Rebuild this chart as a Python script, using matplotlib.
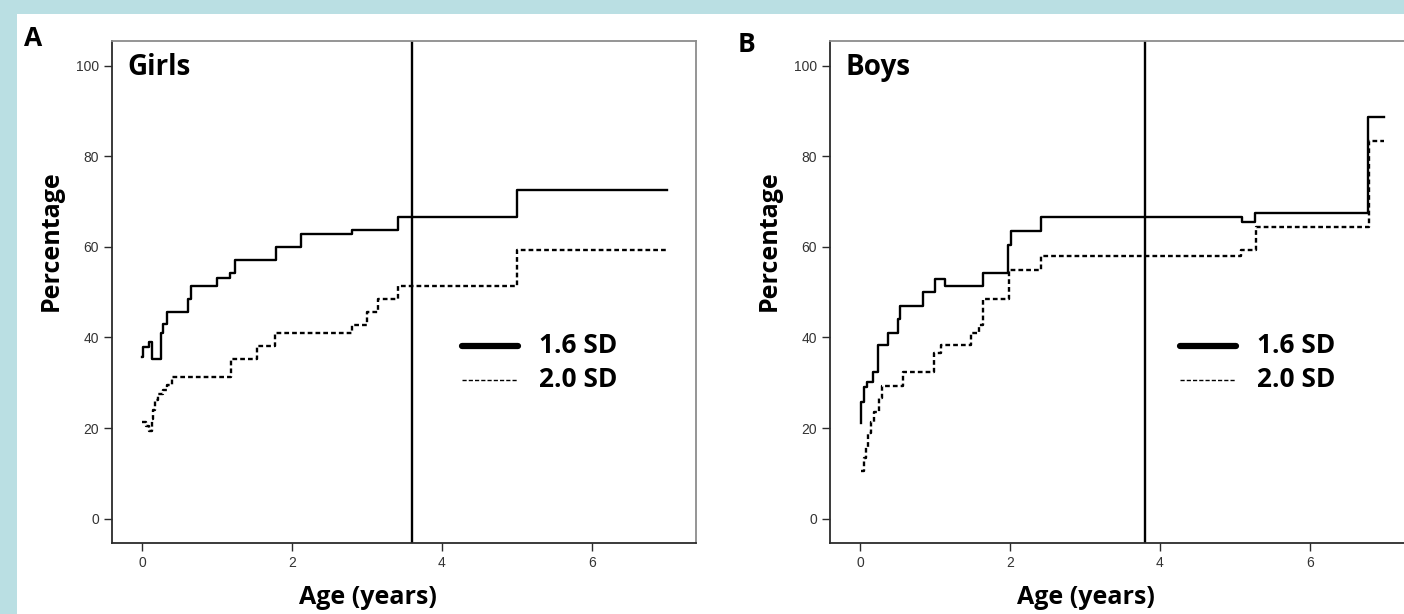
import matplotlib
matplotlib.use("Agg")
import matplotlib.pyplot as plt
from matplotlib.patches import Rectangle

# cumulative percentage by age
girls_t_16 = [0.0, 0.02, 0.1, 0.14, 0.26, 0.28, 0.34, 0.62, 0.66, 1.0, 1.17, 1.24,
              1.79, 2.12, 2.8, 3.42, 5.0, 7.0]
girls_p_16 = [35.8, 38.0, 38.9, 35.2, 41.1, 43.0, 45.7, 48.5, 51.4, 53.1, 54.2, 57.1,
              59.9, 62.9, 63.8, 66.6, 72.6, 72.6]
girls_t_20 = [0.0, 0.06, 0.1, 0.13, 0.15, 0.17, 0.22, 0.28, 0.34, 0.4, 1.19, 1.53,
              1.77, 2.8, 3.0, 3.15, 3.42, 5.0, 7.0]
girls_p_20 = [21.4, 20.5, 19.4, 22.0, 24.0, 26.2, 27.5, 28.5, 29.5, 31.3, 35.2, 38.2,
              41.1, 42.8, 45.7, 48.5, 51.4, 59.3, 59.3]

boys_t_16 = [0.01, 0.02, 0.05, 0.1, 0.17, 0.24, 0.38, 0.51, 0.54, 0.84, 1.0, 1.13,
             1.64, 1.98, 2.01, 2.42, 5.1, 5.27, 6.78, 6.99]
boys_p_16 = [21.2, 25.8, 29.0, 30.2, 32.4, 38.3, 41.1, 44.0, 47.0, 50.0, 52.9, 51.4,
             54.2, 60.4, 63.6, 66.6, 65.6, 67.6, 88.8, 88.8]
boys_t_20 = [0.01, 0.06, 0.08, 0.11, 0.15, 0.19, 0.26, 0.3, 0.57, 0.99, 1.08, 1.48,
             1.59, 1.64, 1.99, 2.41, 5.08, 5.28, 6.79, 6.99]
boys_p_20 = [10.6, 13.3, 15.9, 18.8, 21.4, 23.6, 26.6, 29.3, 32.4, 36.5, 38.3, 40.9,
             42.8, 48.4, 54.9, 58.0, 59.3, 64.5, 83.3, 83.3]

cutoff_age = {"Girls": 3.6, "Boys": 3.8}
legend_labels = ["1.6 SD", "2.0 SD"]
x_ticks = [0, 2, 4, 6]
y_ticks = [0, 20, 40, 60, 80, 100]

BOLD = "Open Sans"
DARK = "#2b2b2b"


def draw_panel(ax, name, t16, p16, t20, p20):
    ax.step(t16, p16, where="post", color="black", lw=1.7)
    ax.step(t20, p20, where="post", color="black", lw=1.7, linestyle=(0, (2, 1.3)))
    ax.axvline(cutoff_age[name], color="black", lw=1.7)

    ax.set_xlim(-0.4, 7.39)
    ax.set_ylim(-5.4, 105.5)
    ax.set_xticks(x_ticks)
    ax.set_yticks(y_ticks)
    ax.tick_params(direction="out", length=6, width=1, color=DARK,
                   labelsize=10, labelcolor="#333333")
    for lab in ax.get_xticklabels() + ax.get_yticklabels():
        lab.set_fontfamily("Liberation Sans")

    for side in ("left", "bottom"):
        ax.spines[side].set_color(DARK)
        ax.spines[side].set_linewidth(1.3)
    for side in ("top", "right"):
        ax.spines[side].set_color("#8c8c8c")
        ax.spines[side].set_linewidth(1.3)

    ax.text(0.027, 0.948, name, transform=ax.transAxes, fontsize=20,
            fontweight="bold", family=BOLD, va="center", ha="left")
    ax.text(-0.104, 0.602, "Percentage", transform=ax.transAxes, fontsize=18,
            fontweight="bold", family=BOLD, rotation=90, va="center", ha="center")
    ax.text(0.438, -0.108, "Age (years)", transform=ax.transAxes, fontsize=18,
            fontweight="bold", family=BOLD, va="center", ha="center")

    # legend drawn by hand to match the original placement
    ax.plot([0.6, 0.695], [0.392, 0.392], transform=ax.transAxes, color="black",
            lw=4.5, solid_capstyle="round")
    ax.plot([0.6, 0.695], [0.325, 0.325], transform=ax.transAxes, color="black",
            lw=1.0, linestyle=(0, (3, 1.5)))
    ax.text(0.731, 0.394, legend_labels[0], transform=ax.transAxes, fontsize=19,
            fontweight="bold", family=BOLD, va="center", ha="left")
    ax.text(0.731, 0.325, legend_labels[1], transform=ax.transAxes, fontsize=19,
            fontweight="bold", family=BOLD, va="center", ha="left")


fig = plt.figure(figsize=(14.04, 6.14), dpi=100, facecolor="#badfe3")
fig.add_artist(Rectangle((17 / 1404, 0), 1, 600 / 614, transform=fig.transFigure,
                         facecolor="white", edgecolor="none", zorder=-10))

ax_a = fig.add_axes([112 / 1404, 71 / 614, 584 / 1404, 502 / 614])
ax_b = fig.add_axes([830 / 1404, 71 / 614, 584 / 1404, 502 / 614])

draw_panel(ax_a, "Girls", girls_t_16, girls_p_16, girls_t_20, girls_p_20)
draw_panel(ax_b, "Boys", boys_t_16, boys_p_16, boys_t_20, boys_p_20)

fig.text(24 / 1404, 1 - 38 / 614, "A", fontsize=19, fontweight="bold", family=BOLD,
         va="center", ha="left")
fig.text(738 / 1404, 1 - 44 / 614, "B", fontsize=19, fontweight="bold", family=BOLD,
         va="center", ha="left")

fig.savefig("out.png", dpi=100, facecolor=fig.get_facecolor())
